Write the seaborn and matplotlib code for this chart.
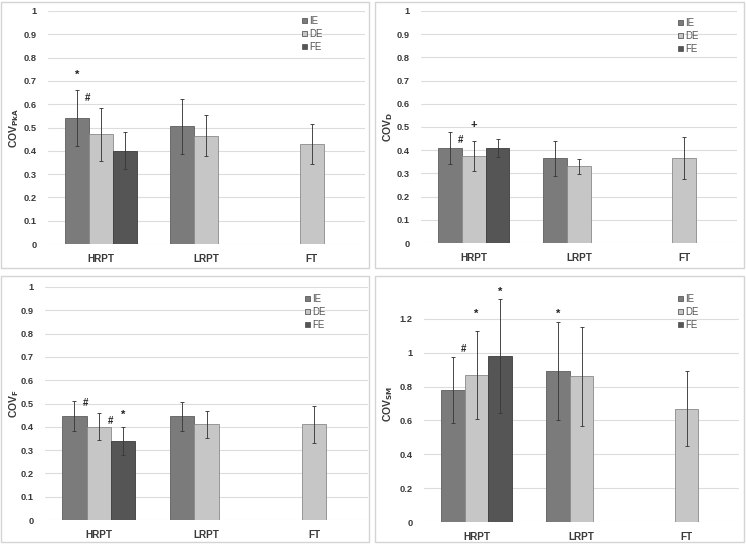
import numpy as np
import pandas as pd
import matplotlib
matplotlib.use("Agg")
import matplotlib.pyplot as plt
import seaborn as sns
from matplotlib.patches import Rectangle
from matplotlib.container import BarContainer

# ---------------- data ----------------
categories = ["HRPT", "LRPT", "FT"]
series = ["IE", "DE", "FE"]

# COV_PkA
pka_ie = [0.54, 0.505, np.nan]
pka_de = [0.47, 0.465, 0.43]
pka_fe = [0.40, np.nan, np.nan]
pka_ie_err = [0.12, 0.117, np.nan]
pka_de_err = [0.115, 0.087, 0.085]
pka_fe_err = [0.08, np.nan, np.nan]

# COV_D
d_ie = [0.41, 0.365, np.nan]
d_de = [0.375, 0.33, 0.365]
d_fe = [0.41, np.nan, np.nan]
d_ie_err = [0.07, 0.075, np.nan]
d_de_err = [0.063, 0.033, 0.09]
d_fe_err = [0.04, np.nan, np.nan]

# COV_F
f_ie = [0.445, 0.445, np.nan]
f_de = [0.40, 0.41, 0.41]
f_fe = [0.34, np.nan, np.nan]
f_ie_err = [0.065, 0.062, np.nan]
f_de_err = [0.058, 0.057, 0.078]
f_fe_err = [0.06, np.nan, np.nan]

# COV_SM
sm_ie = [0.78, 0.89, np.nan]
sm_de = [0.87, 0.86, 0.67]
sm_fe = [0.98, np.nan, np.nan]
sm_ie_err = [0.195, 0.29, np.nan]
sm_de_err = [0.26, 0.29, 0.22]
sm_fe_err = [0.335, np.nan, np.nan]

# significance marks: (category index, series, y, symbol)
pka_marks = [(0, "IE", 0.726, "*"), (0, "IE|DE", 0.626, "#")]
d_marks = [(0, "IE|DE", 0.444, "#"), (0, "DE", 0.509, "+")]
f_marks = [(0, "IE|DE", 0.503, "#"), (0, "DE|FE", 0.426, "#"), (0, "FE", 0.453, "*")]
sm_marks = [(0, "IE|DE", 1.019, "#"), (0, "DE", 1.229, "*"), (0, "FE", 1.36, "*"),
            (1, "IE", 1.229, "*")]

# ---------------- style ----------------
sns.set_style("white")
plt.rcParams["font.family"] = ["Liberation Sans", "DejaVu Sans"]

W, H = 746, 545
fig = plt.figure(figsize=(W / 100, H / 100), dpi=100)

palette = {"IE": "#7b7b7b", "DE": "#c6c6c6", "FE": "#555555"}
edges = {"IE": "#5e5e5e", "DE": "#8a8a8a", "FE": "#3c3c3c"}
txt = "#3a3a3a"
BARW = 0.68


def fig_rect(l, t, r, b):
    return [l / W, 1 - b / H, (r - l) / W, (b - t) / H]


panels = [
    dict(rect=(48, 11, 364.5, 244), box=(1, 2, 369, 268), vals=(pka_ie, pka_de, pka_fe),
         errs=(pka_ie_err, pka_de_err, pka_fe_err), ymax=1.0, step=0.1, top_tick=1.0,
         label=r"COV$_{\mathbf{PkA}}$", marks=pka_marks, leg=(302, 16)),
    dict(rect=(421, 11, 737, 243), box=(375, 2, 744, 268), vals=(d_ie, d_de, d_fe),
         errs=(d_ie_err, d_de_err, d_fe_err), ymax=1.0, step=0.1, top_tick=1.0,
         label=r"COV$_{\mathbf{D}}$", marks=d_marks, leg=(678, 18)),
    dict(rect=(45, 287, 368, 520), box=(1, 276, 369, 542), vals=(f_ie, f_de, f_fe),
         errs=(f_ie_err, f_de_err, f_fe_err), ymax=1.0, step=0.1, top_tick=1.0,
         label=r"COV$_{\mathbf{F}}$", marks=f_marks, leg=(305, 294)),
    dict(rect=(424, 285, 739, 522), box=(375, 276, 744, 542), vals=(sm_ie, sm_de, sm_fe),
         errs=(sm_ie_err, sm_de_err, sm_fe_err), ymax=1.4, step=0.2, top_tick=1.2,
         label=r"COV$_{\mathbf{SM}}$", marks=sm_marks, leg=(678, 294)),
]

bw = BARW / 3
offsets = {"IE": -bw, "DE": 0.0, "FE": bw, "IE|DE": -bw / 2 - 0.01, "DE|FE": bw / 2 - 0.005}

for p in panels:
    l, t, r, b = p["box"]
    fig.patches.append(Rectangle((l / W, 1 - b / H), (r - l) / W, (b - t) / H,
                                 transform=fig.transFigure, fill=False,
                                 edgecolor="#d4d4d4", lw=1.0, zorder=0))

    ax = fig.add_axes(fig_rect(*p["rect"]))
    rows = []
    for s, vals in zip(series, p["vals"]):
        for c, v in zip(categories, vals):
            if not np.isnan(v):
                rows.append({"cat": c, "series": s, "value": v})
    df = pd.DataFrame(rows)
    sns.barplot(data=df, x="cat", y="value", hue="series", order=categories,
                hue_order=series, palette=palette, width=BARW, errorbar=None,
                ax=ax, zorder=2, linewidth=0.6, edgecolor="#5a5a5a")

    errs = dict(zip(series, p["errs"]))
    bar_conts = [c for c in ax.containers if isinstance(c, BarContainer)]
    for cont in bar_conts:
        for patch in cont:
            xc = patch.get_x() + patch.get_width() / 2
            h = patch.get_height()
            if np.isnan(h):
                continue
            ci = int(round(xc))
            si = int(round((xc - ci) / bw)) + 1
            s = series[si]
            patch.set_edgecolor(edges[s])
            e = errs[s][ci]
            ax.errorbar(xc, h, yerr=e, color="#3a3a3a", lw=0.65, capsize=1.5,
                        capthick=0.65, zorder=3)

    for ci, key, y, sym in p["marks"]:
        ax.text(ci + offsets[key], y, sym, ha="center", va="center",
                fontsize=8 if sym != "#" else 7, fontweight="bold", color="#222222",
                zorder=4)

    ax.set_xlim(-0.5, 2.5)
    ax.set_ylim(0, p["ymax"])
    ticks = np.round(np.arange(0, p["top_tick"] + 1e-9, p["step"]), 2)
    ax.set_yticks(ticks)
    ax.set_yticklabels([("%g" % v) for v in ticks], fontsize=6.7, fontweight="bold",
                       color=txt)
    ax.set_xticks(range(3))
    ax.set_xticklabels(categories, fontsize=7.2, fontweight="bold", color=txt)
    ax.tick_params(axis="both", length=0)
    ax.tick_params(axis="y", pad=8)
    ax.tick_params(axis="x", pad=7)
    ax.yaxis.grid(True, color="#dcdcdc", lw=0.8, zorder=0)
    ax.set_axisbelow(True)
    for sp in ax.spines.values():
        sp.set_visible(False)
    ax.set_xlabel("")
    ax.set_ylabel(p["label"], fontsize=7.5, fontweight="bold", color=txt)
    axw = p["rect"][2] - p["rect"][0]
    ax.yaxis.set_label_coords(-(p["rect"][0] - p["box"][0] - 20) / axw, 0.5)

    handles, labels = ax.get_legend_handles_labels()
    if ax.get_legend() is not None:
        ax.get_legend().remove()
    lx, ly = p["leg"]
    leg = ax.legend(handles, labels, loc="upper left",
                    bbox_to_anchor=(lx / W, 1 - ly / H),
                    bbox_transform=fig.transFigure, frameon=False, fontsize=7,
                    handlelength=0.5, handleheight=0.5, handletextpad=0.25,
                    labelspacing=0.3, borderpad=0, borderaxespad=0)
    for tx in leg.get_texts():
        tx.set_color("#555555")

fig.savefig("out.png", dpi=100)
